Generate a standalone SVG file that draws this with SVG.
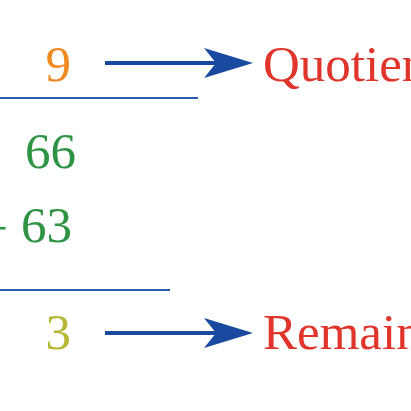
<svg xmlns="http://www.w3.org/2000/svg" width="411" height="411" viewBox="0 0 411 411">
<style>
text{font-family:"Liberation Serif","Times New Roman",serif;font-size:51px}
.num{text-anchor:end}
.lbl{fill:#e0352b}
.rule{stroke:#2b5cb0;stroke-width:2.2;fill:none}
.conn{stroke:#1a4aa0;stroke-width:4;fill:none}
</style>
<defs>
<marker id="ah" markerUnits="userSpaceOnUse" markerWidth="52" markerHeight="32" refX="36" refY="15" orient="auto" viewBox="0 0 52 32">
<path d="M50,15 L1,0 L13,15 L1,30 Z" fill="#1a4aa0"/>
</marker>
</defs>
<g id="quotient-digit"><text class="num" x="71" y="81" fill="#f28a22">9</text></g>
<g id="quotient-label"><text class="lbl" x="263" y="81">Quotient</text></g>
<g id="rule-top"><line class="rule" x1="0" y1="98" x2="198" y2="98"/></g>
<g id="dividend"><text class="num" x="76" y="168" fill="#2e9444">66</text></g>
<g id="subtrahend"><text class="num" x="72" y="242" fill="#2e9444"><tspan dy="3">−</tspan><tspan dy="-3"> 63</tspan></text></g>
<g id="rule-bottom"><line class="rule" x1="0" y1="290" x2="170" y2="290"/></g>
<g id="remainder-digit"><text class="num" x="71" y="349" fill="#b5b735">3</text></g>
<g id="remainder-label"><text class="lbl" x="263" y="349">Remainder</text></g>
<g id="connectors">
<line class="conn" x1="105" y1="63" x2="239" y2="63" marker-end="url(#ah)"/>
<line class="conn" x1="105" y1="333" x2="239" y2="333" marker-end="url(#ah)"/>
</g>
</svg>
